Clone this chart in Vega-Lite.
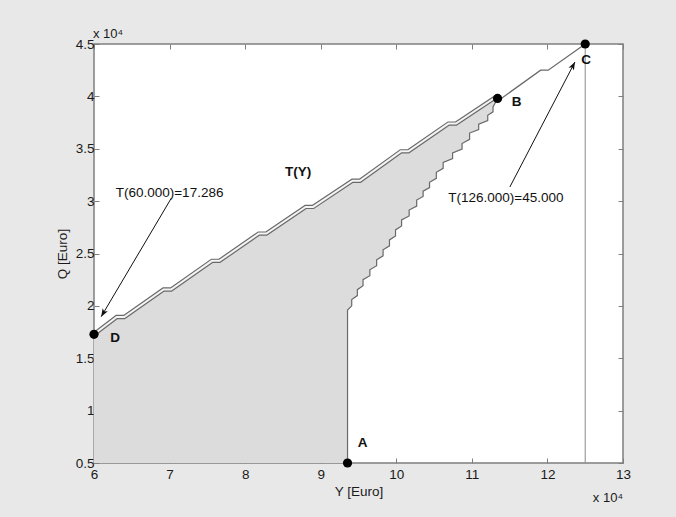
{
  "$schema": "https://vega.github.io/schema/vega-lite/v6.json",
  "width": 529,
  "height": 419,
  "autosize": {"type": "none"},
  "padding": {"left": 94, "top": 44, "right": 53, "bottom": 54},
  "background": "#e8e8e8",
  "config": {
    "view": {"fill": "white", "stroke": "#7f7f7f", "strokeWidth": 1.5},
    "axis": {
      "grid": false,
      "domain": false,
      "tickColor": "#7f7f7f",
      "tickSize": -5,
      "tickWidth": 1,
      "labelFont": "Liberation Sans",
      "labelFontSize": 13.5,
      "labelColor": "#1a1a1a",
      "labelOverlap": false,
      "labelFlush": false,
      "titleFont": "Liberation Sans",
      "titleFontSize": 13.5,
      "titleFontWeight": "normal",
      "titleColor": "#1a1a1a"
    }
  },
  "datasets": {
    "poly": [
      {"i": 0, "x": 6.0, "y": 0.5},
      {"i": 1, "x": 6.0, "y": 1.7286},
      {"i": 2, "x": 6.30, "y": 1.894},
      {"i": 3, "x": 6.40, "y": 1.894},
      {"i": 4, "x": 6.92, "y": 2.156},
      {"i": 5, "x": 7.02, "y": 2.156},
      {"i": 6, "x": 7.56, "y": 2.43},
      {"i": 7, "x": 7.66, "y": 2.43},
      {"i": 8, "x": 8.18, "y": 2.69},
      {"i": 9, "x": 8.28, "y": 2.69},
      {"i": 10, "x": 8.80, "y": 2.945},
      {"i": 11, "x": 8.90, "y": 2.945},
      {"i": 12, "x": 9.42, "y": 3.195},
      {"i": 13, "x": 9.52, "y": 3.195},
      {"i": 14, "x": 10.06, "y": 3.475},
      {"i": 15, "x": 10.16, "y": 3.475},
      {"i": 16, "x": 10.69, "y": 3.74},
      {"i": 17, "x": 10.79, "y": 3.74},
      {"i": 18, "x": 11.29, "y": 3.98},
      {"i": 19, "x": 11.34, "y": 3.98},
      {"i": 20, "x": 11.28, "y": 3.90},
      {"i": 21, "x": 11.28, "y": 3.852},
      {"i": 22, "x": 11.21, "y": 3.82},
      {"i": 23, "x": 11.21, "y": 3.769},
      {"i": 24, "x": 11.09, "y": 3.735},
      {"i": 25, "x": 11.09, "y": 3.684},
      {"i": 26, "x": 10.97, "y": 3.65},
      {"i": 27, "x": 10.97, "y": 3.59},
      {"i": 28, "x": 10.87, "y": 3.55},
      {"i": 29, "x": 10.87, "y": 3.496},
      {"i": 30, "x": 10.745, "y": 3.46},
      {"i": 31, "x": 10.745, "y": 3.406},
      {"i": 32, "x": 10.62, "y": 3.37},
      {"i": 33, "x": 10.62, "y": 3.313},
      {"i": 34, "x": 10.53, "y": 3.275},
      {"i": 35, "x": 10.53, "y": 3.218},
      {"i": 36, "x": 10.44, "y": 3.18},
      {"i": 37, "x": 10.44, "y": 3.129},
      {"i": 38, "x": 10.355, "y": 3.095},
      {"i": 39, "x": 10.355, "y": 3.044},
      {"i": 40, "x": 10.27, "y": 3.01},
      {"i": 41, "x": 10.27, "y": 2.953},
      {"i": 42, "x": 10.17, "y": 2.915},
      {"i": 43, "x": 10.17, "y": 2.858},
      {"i": 44, "x": 10.07, "y": 2.82},
      {"i": 45, "x": 10.07, "y": 2.763},
      {"i": 46, "x": 9.99, "y": 2.725},
      {"i": 47, "x": 9.99, "y": 2.668},
      {"i": 48, "x": 9.91, "y": 2.63},
      {"i": 49, "x": 9.91, "y": 2.573},
      {"i": 50, "x": 9.825, "y": 2.535},
      {"i": 51, "x": 9.825, "y": 2.478},
      {"i": 52, "x": 9.74, "y": 2.44},
      {"i": 53, "x": 9.74, "y": 2.383},
      {"i": 54, "x": 9.65, "y": 2.345},
      {"i": 55, "x": 9.65, "y": 2.288},
      {"i": 56, "x": 9.56, "y": 2.25},
      {"i": 57, "x": 9.56, "y": 2.193},
      {"i": 58, "x": 9.485, "y": 2.155},
      {"i": 59, "x": 9.485, "y": 2.098},
      {"i": 60, "x": 9.41, "y": 2.06},
      {"i": 61, "x": 9.41, "y": 2.0},
      {"i": 62, "x": 9.355, "y": 1.96},
      {"i": 63, "x": 9.355, "y": 0.5}
    ],
    "left": [
      {"i": 0, "x": 6.0, "y": 1.7286},
      {"i": 1, "x": 6.30, "y": 1.894},
      {"i": 2, "x": 6.40, "y": 1.894},
      {"i": 3, "x": 6.92, "y": 2.156},
      {"i": 4, "x": 7.02, "y": 2.156},
      {"i": 5, "x": 7.56, "y": 2.43},
      {"i": 6, "x": 7.66, "y": 2.43},
      {"i": 7, "x": 8.18, "y": 2.69},
      {"i": 8, "x": 8.28, "y": 2.69},
      {"i": 9, "x": 8.80, "y": 2.945},
      {"i": 10, "x": 8.90, "y": 2.945},
      {"i": 11, "x": 9.42, "y": 3.195},
      {"i": 12, "x": 9.52, "y": 3.195},
      {"i": 13, "x": 10.06, "y": 3.475},
      {"i": 14, "x": 10.16, "y": 3.475},
      {"i": 15, "x": 10.69, "y": 3.74},
      {"i": 16, "x": 10.79, "y": 3.74},
      {"i": 17, "x": 11.29, "y": 3.98},
      {"i": 18, "x": 11.34, "y": 3.98}
    ],
    "right": [
      {"i": 0, "x": 11.34, "y": 3.98},
      {"i": 1, "x": 11.39, "y": 3.98},
      {"i": 2, "x": 11.91, "y": 4.25},
      {"i": 3, "x": 12.01, "y": 4.25},
      {"i": 4, "x": 12.5, "y": 4.5}
    ],
    "stair": [
      {"i": 0, "x": 9.355, "y": 0.5},
      {"i": 1, "x": 9.355, "y": 1.96},
      {"i": 2, "x": 9.41, "y": 2.0},
      {"i": 3, "x": 9.41, "y": 2.06},
      {"i": 4, "x": 9.485, "y": 2.098},
      {"i": 5, "x": 9.485, "y": 2.155},
      {"i": 6, "x": 9.56, "y": 2.193},
      {"i": 7, "x": 9.56, "y": 2.25},
      {"i": 8, "x": 9.65, "y": 2.288},
      {"i": 9, "x": 9.65, "y": 2.345},
      {"i": 10, "x": 9.74, "y": 2.383},
      {"i": 11, "x": 9.74, "y": 2.44},
      {"i": 12, "x": 9.825, "y": 2.478},
      {"i": 13, "x": 9.825, "y": 2.535},
      {"i": 14, "x": 9.91, "y": 2.573},
      {"i": 15, "x": 9.91, "y": 2.63},
      {"i": 16, "x": 9.99, "y": 2.668},
      {"i": 17, "x": 9.99, "y": 2.725},
      {"i": 18, "x": 10.07, "y": 2.763},
      {"i": 19, "x": 10.07, "y": 2.82},
      {"i": 20, "x": 10.17, "y": 2.858},
      {"i": 21, "x": 10.17, "y": 2.915},
      {"i": 22, "x": 10.27, "y": 2.953},
      {"i": 23, "x": 10.27, "y": 3.01},
      {"i": 24, "x": 10.355, "y": 3.044},
      {"i": 25, "x": 10.355, "y": 3.095},
      {"i": 26, "x": 10.44, "y": 3.129},
      {"i": 27, "x": 10.44, "y": 3.18},
      {"i": 28, "x": 10.53, "y": 3.218},
      {"i": 29, "x": 10.53, "y": 3.275},
      {"i": 30, "x": 10.62, "y": 3.313},
      {"i": 31, "x": 10.62, "y": 3.37},
      {"i": 32, "x": 10.745, "y": 3.406},
      {"i": 33, "x": 10.745, "y": 3.46},
      {"i": 34, "x": 10.87, "y": 3.496},
      {"i": 35, "x": 10.87, "y": 3.55},
      {"i": 36, "x": 10.97, "y": 3.59},
      {"i": 37, "x": 10.97, "y": 3.65},
      {"i": 38, "x": 11.09, "y": 3.684},
      {"i": 39, "x": 11.09, "y": 3.735},
      {"i": 40, "x": 11.21, "y": 3.769},
      {"i": 41, "x": 11.21, "y": 3.82},
      {"i": 42, "x": 11.28, "y": 3.852},
      {"i": 43, "x": 11.28, "y": 3.90},
      {"i": 44, "x": 11.34, "y": 3.98}
    ],
    "vline": [
      {"i": 0, "x": 12.5, "y": 0.5},
      {"i": 1, "x": 12.5, "y": 4.5}
    ],
    "pts": [
      {"label": "A", "x": 9.355, "y": 0.5},
      {"label": "B", "x": 11.34, "y": 3.98},
      {"label": "C", "x": 12.5, "y": 4.5},
      {"label": "D", "x": 6.0, "y": 1.7286}
    ],
    "arrows": [
      {"id": "a1", "i": 0, "x": 7.022, "y": 3.027},
      {"id": "a1", "i": 1, "x": 6.095, "y": 1.897},
      {"id": "a2", "i": 0, "x": 11.503, "y": 3.135},
      {"id": "a2", "i": 1, "x": 12.364, "y": 4.328}
    ],
    "notes": [
      {"t": "T(60.000)=17.286", "x": 7.0, "y": 3.08},
      {"t": "T(126.000)=45.000", "x": 11.45, "y": 3.03}
    ],
    "bold": [
      {"t": "T(Y)", "x": 8.70, "y": 3.28}
    ],
    "sci": [
      {"t": "x 10⁴", "x": 6.0, "y": 4.5, "pos": "top"},
      {"t": "x 10⁴", "x": 13.0, "y": 0.5, "pos": "bottom"}
    ]
  },
  "resolve": {"axis": {"x": "independent", "y": "independent"}},
  "layer": [
    {
      "encoding": {
        "x": {
          "field": "x", "type": "quantitative",
          "scale": {"domain": [6, 13], "nice": false, "zero": false},
          "axis": {"values": [6, 7, 8, 9, 10, 11, 12, 13], "title": "Y [Euro]", "labelPadding": 9, "titlePadding": 4}
        },
        "y": {
          "field": "y", "type": "quantitative",
          "scale": {"domain": [0.5, 4.5], "nice": false, "zero": false},
          "axis": {"values": [0.5, 1, 1.5, 2, 2.5, 3, 3.5, 4, 4.5], "format": "~g", "title": "Q [Euro]", "labelPadding": 5, "titlePadding": 6}
        }
      },
      "layer": [
        {
          "data": {"name": "poly"},
          "mark": {"type": "line", "fill": "#dcdcdc", "stroke": "#dcdcdc", "strokeWidth": 0.5},
          "encoding": {"order": {"field": "i", "type": "quantitative"}}
        },
        {
          "data": {"name": "stair"},
          "mark": {"type": "line", "stroke": "#6a6a6a", "strokeWidth": 1.2},
          "encoding": {"order": {"field": "i", "type": "quantitative"}}
        },
        {
          "data": {"name": "vline"},
          "mark": {"type": "line", "stroke": "#8a8a8a", "strokeWidth": 1},
          "encoding": {"order": {"field": "i", "type": "quantitative"}}
        },
        {
          "data": {"name": "left"},
          "mark": {"type": "line", "stroke": "#6a6a6a", "strokeWidth": 4.4},
          "encoding": {"order": {"field": "i", "type": "quantitative"}}
        },
        {
          "data": {"name": "left"},
          "mark": {"type": "line", "stroke": "#f4f4f4", "strokeWidth": 2},
          "encoding": {"order": {"field": "i", "type": "quantitative"}}
        },
        {
          "data": {"name": "right"},
          "mark": {"type": "line", "stroke": "#6a6a6a", "strokeWidth": 1.3},
          "encoding": {"order": {"field": "i", "type": "quantitative"}}
        },
        {
          "data": {"name": "arrows"},
          "mark": {"type": "line", "stroke": "#111111", "strokeWidth": 1},
          "encoding": {"detail": {"field": "id"}, "order": {"field": "i", "type": "quantitative"}}
        },
        {
          "data": {"name": "arrows"},
          "transform": [{"filter": "datum.id == 'a1' && datum.i == 1"}],
          "mark": {"type": "point", "shape": "M0,0 L0.38,1 L0,0.75 L-0.38,1 Z", "size": 256, "filled": true, "color": "#111111", "opacity": 1, "angle": 210.6},
          "encoding": {}
        },
        {
          "data": {"name": "arrows"},
          "transform": [{"filter": "datum.id == 'a2' && datum.i == 1"}],
          "mark": {"type": "point", "shape": "M0,0 L0.38,1 L0,0.75 L-0.38,1 Z", "size": 256, "filled": true, "color": "#111111", "opacity": 1, "angle": 27.5},
          "encoding": {}
        },
        {
          "data": {"name": "pts"},
          "mark": {"type": "point", "shape": "circle", "size": 85, "filled": true, "color": "#000000", "opacity": 1},
          "encoding": {}
        },
        {
          "data": {"name": "pts"},
          "transform": [{"filter": "datum.label == 'A'"}],
          "mark": {"type": "text", "font": "Liberation Sans", "fontSize": 13.5, "fontWeight": "bold", "color": "#111111", "dx": 15, "dy": -20},
          "encoding": {"text": {"field": "label"}}
        },
        {
          "data": {"name": "pts"},
          "transform": [{"filter": "datum.label == 'B'"}],
          "mark": {"type": "text", "font": "Liberation Sans", "fontSize": 13.5, "fontWeight": "bold", "color": "#111111", "dx": 19, "dy": 4},
          "encoding": {"text": {"field": "label"}}
        },
        {
          "data": {"name": "pts"},
          "transform": [{"filter": "datum.label == 'C'"}],
          "mark": {"type": "text", "font": "Liberation Sans", "fontSize": 13.5, "fontWeight": "bold", "color": "#111111", "dx": 1, "dy": 16},
          "encoding": {"text": {"field": "label"}}
        },
        {
          "data": {"name": "pts"},
          "transform": [{"filter": "datum.label == 'D'"}],
          "mark": {"type": "text", "font": "Liberation Sans", "fontSize": 13.5, "fontWeight": "bold", "color": "#111111", "dx": 21, "dy": 4},
          "encoding": {"text": {"field": "label"}}
        },
        {
          "data": {"name": "notes"},
          "mark": {"type": "text", "font": "Liberation Sans", "fontSize": 13.5, "color": "#111111"},
          "encoding": {"text": {"field": "t"}}
        },
        {
          "data": {"name": "bold"},
          "mark": {"type": "text", "font": "Liberation Sans", "fontSize": 13.5, "fontWeight": "bold", "color": "#111111"},
          "encoding": {"text": {"field": "t"}}
        },
        {
          "data": {"name": "sci"},
          "transform": [{"filter": "datum.pos == 'top'"}],
          "mark": {"type": "text", "font": "Liberation Sans", "fontSize": 13, "color": "#1a1a1a", "align": "left", "dx": -1, "dy": -10},
          "encoding": {"text": {"field": "t"}}
        },
        {
          "data": {"name": "sci"},
          "transform": [{"filter": "datum.pos == 'bottom'"}],
          "mark": {"type": "text", "font": "Liberation Sans", "fontSize": 13, "color": "#1a1a1a", "align": "right", "dx": 0, "dy": 35},
          "encoding": {"text": {"field": "t"}}
        }
      ]
    },
    {
      "data": {"name": "vline"},
      "mark": {"type": "point", "opacity": 0},
      "encoding": {
        "x": {
          "field": "x", "type": "quantitative",
          "scale": {"domain": [6, 13], "nice": false, "zero": false},
          "axis": {"orient": "top", "values": [6, 7, 8, 9, 10, 11, 12, 13], "labels": false, "title": null}
        },
        "y": {
          "field": "y", "type": "quantitative",
          "scale": {"domain": [0.5, 4.5], "nice": false, "zero": false},
          "axis": {"orient": "right", "values": [0.5, 1, 1.5, 2, 2.5, 3, 3.5, 4, 4.5], "labels": false, "title": null}
        }
      }
    }
  ]
}
